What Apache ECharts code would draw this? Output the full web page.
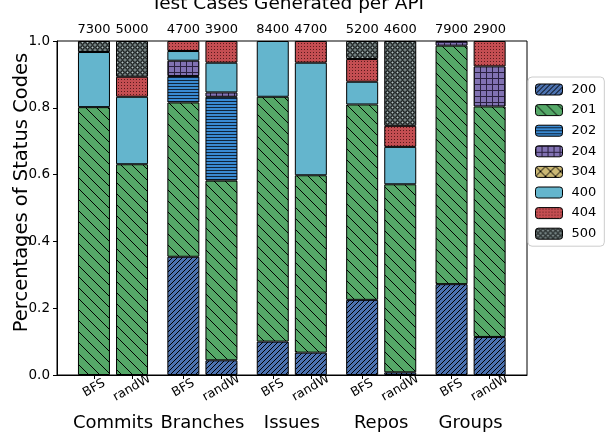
<!DOCTYPE html>
<html>
<head>
<meta charset="utf-8">
<script src="https://cdn.jsdelivr.net/npm/echarts@6/dist/echarts.min.js"></script>
<style>
html, body { margin: 0; padding: 0; background: #fff; }
#chart { width: 608px; height: 435px; }
</style>
</head>
<body>
<div id="chart"></div>
<script>
// order of bars: Commits BFS, Commits randW, Branches BFS, ... Groups randW
let groups = ['Commits', 'Branches', 'Issues', 'Repos', 'Groups'];
let methods = ['BFS', 'randW'];
let caseCounts = [7300, 5000, 4700, 3900, 8400, 4700, 5200, 4600, 7900, 2900];
let codes = ['200', '201', '202', '204', '304', '400', '404', '500'];

let share200 = [0, 0, 0.354, 0.044, 0.100, 0.067, 0.225, 0.008, 0.272, 0.114];
let share201 = [0.802, 0.631, 0.462, 0.538, 0.733, 0.531, 0.585, 0.563, 0.714, 0.690];
let share202 = [0, 0, 0.079, 0.251, 0, 0, 0, 0, 0, 0];
let share204 = [0, 0, 0.046, 0.013, 0, 0, 0, 0, 0.014, 0.120];
let share304 = [0, 0, 0, 0, 0, 0, 0, 0, 0, 0];
let share400 = [0.165, 0.202, 0.029, 0.089, 0.167, 0.337, 0.068, 0.112, 0, 0];
let share404 = [0, 0.060, 0.030, 0.065, 0, 0.065, 0.068, 0.063, 0, 0.076];
let share500 = [0.033, 0.107, 0, 0, 0, 0, 0.054, 0.254, 0, 0];

let shares = [share200, share201, share202, share204, share304, share400, share404, share500];

// hatch fills, drawn on a small canvas tile
function tile(bg, size, draw) {
    let c = document.createElement('canvas');
    c.width = size;
    c.height = size;
    let g = c.getContext('2d');
    g.fillStyle = bg;
    g.fillRect(0, 0, size, size);
    g.strokeStyle = '#000';
    g.fillStyle = '#000';
    g.lineWidth = 1;
    draw(g, size);
    return {image: c, repeat: 'repeat'};
}

function line(g, x1, y1, x2, y2) {
    g.beginPath();
    g.moveTo(x1, y1);
    g.lineTo(x2, y2);
    g.stroke();
}

let fills = [
    tile('#4C72B0', 5, (g, s) => { line(g, -1, 1, 1, -1); line(g, 0, s, s, 0); line(g, s - 1, s + 1, s + 1, s - 1); }),
    tile('#55A868', 11, (g, s) => { line(g, -1, -1, s + 1, s + 1); line(g, s - 1, -1, s + 1, 1); line(g, -1, s - 1, 1, s + 1); }),
    tile('#3A8AD2', 3, (g, s) => { g.fillStyle = '#10243a'; g.fillRect(0, 2, s, 1); }),
    tile('#8172B2', 6, (g, s) => { g.strokeStyle = '#2a2040'; line(g, 0.5, 0, 0.5, s); line(g, 0, 0.5, s, 0.5); }),
    tile('#CCB974', 10, (g, s) => { line(g, 0, 0, s, s); line(g, 0, s, s, 0); }),
    '#64B5CD',
    tile('#C44E52', 3, (g, s) => { g.fillStyle = '#5a1a1c'; g.fillRect(1, 1, 1, 1); }),
    tile('#728080', 5, (g, s) => { g.fillStyle = '#b8c4c4'; g.fillRect(2, 2, 1, 1); g.beginPath(); g.arc(2.5, 2.5, 1.8, 0, Math.PI * 2); g.stroke(); })
];

// bar centres in group units (group g centred on g)
let barPos = [];
groups.forEach((name, g) => { barPos.push(g - 0.2125, g + 0.2125); });

function barIndex(v) {
    return barPos.findIndex(p => Math.abs(p - v) < 1e-6);
}

let font = 'DejaVu Sans';
let series = [];
codes.forEach((code, i) => {
    methods.forEach((m, k) => {
        series.push({
            name: code,
            type: 'bar',
            xAxisIndex: 0,
            yAxisIndex: 1,
            stack: m,
            barWidth: 32,
            barGap: '19%',
            itemStyle: {color: fills[i], borderColor: '#000', borderWidth: 1},
            emphasis: {disabled: true},
            data: groups.map((gname, g) => {
                let v = shares[i][g * 2 + k];
                return v > 0 ? v : '-';
            })
        });
    });
});

let option = {
    animation: false,
    title: {
        text: 'Test Cases Generated per API',
        left: 151,
        top: -5,
        padding: 0,
        textStyle: {fontFamily: font, fontSize: 18.5, fontWeight: 'normal', color: '#000'}
    },
    legend: {
        data: codes,
        orient: 'vertical',
        left: 528,
        top: 77,
        padding: [6, 8, 6, 7],
        itemWidth: 27,
        itemHeight: 11,
        itemGap: 7.6,
        backgroundColor: '#fff',
        borderColor: '#ccc',
        borderWidth: 1,
        borderRadius: 4,
        itemStyle: {borderColor: '#000', borderWidth: 1},
        textStyle: {fontFamily: font, fontSize: 13, color: '#000', padding: [0, 0, 0, 4]}
    },
    grid: [
        {left: 57, right: 81, top: 41, bottom: 60, outerBoundsMode: 'none', show: true, borderColor: '#000', borderWidth: 1},
        {left: 68.3, width: 447, top: 41, bottom: 60, outerBoundsMode: 'none'}
    ],
    xAxis: [{
        type: 'category',
        gridIndex: 1,
        data: groups,
        axisLine: {show: false},
        axisTick: {show: false},
        axisLabel: {interval: 0, margin: 39, fontFamily: font, fontSize: 18, color: '#000'}
    }, {
        type: 'value',
        gridIndex: 0,
        position: 'bottom',
        min: -0.6264,
        max: 4.6309,
        splitLine: {show: false},
        axisLine: {onZero: false, lineStyle: {color: '#000'}},
        axisTick: {customValues: barPos, length: 4, lineStyle: {color: '#000'}},
        axisLabel: {
            customValues: barPos,
            rotate: 30,
            align: 'center',
            verticalAlign: 'middle',
            margin: 13,
            fontFamily: font,
            fontSize: 12.5,
            color: '#000',
            formatter: v => methods[barIndex(v) % 2]
        }
    }, {
        type: 'value',
        gridIndex: 0,
        position: 'top',
        min: -0.6264,
        max: 4.6309,
        splitLine: {show: false},
        axisLine: {show: false, onZero: false},
        axisTick: {show: false},
        axisLabel: {
            customValues: barPos,
            margin: 5,
            fontFamily: font,
            fontSize: 13,
            color: '#000',
            formatter: v => String(caseCounts[barIndex(v)])
        }
    }],
    yAxis: [{
        type: 'value',
        gridIndex: 0,
        min: 0,
        max: 1,
        interval: 0.2,
        name: 'Percentages of Status Codes',
        nameLocation: 'middle',
        nameGap: 25,
        nameMoveOverlap: false,
        nameTextStyle: {fontFamily: font, fontSize: 19.5, color: '#000', padding: [0, 0, 0, 31]},
        splitLine: {show: false},
        axisLine: {show: true, onZero: false, lineStyle: {color: '#000'}},
        axisTick: {show: true, length: 4, lineStyle: {color: '#000'}},
        axisLabel: {margin: 7, fontFamily: font, fontSize: 13.5, color: '#000', formatter: v => v.toFixed(1)}
    }, {
        type: 'value',
        gridIndex: 1,
        min: 0,
        max: 1,
        show: false
    }],
    series: series
};

echarts.init(document.getElementById('chart')).setOption(option);
</script>
</body>
</html>
